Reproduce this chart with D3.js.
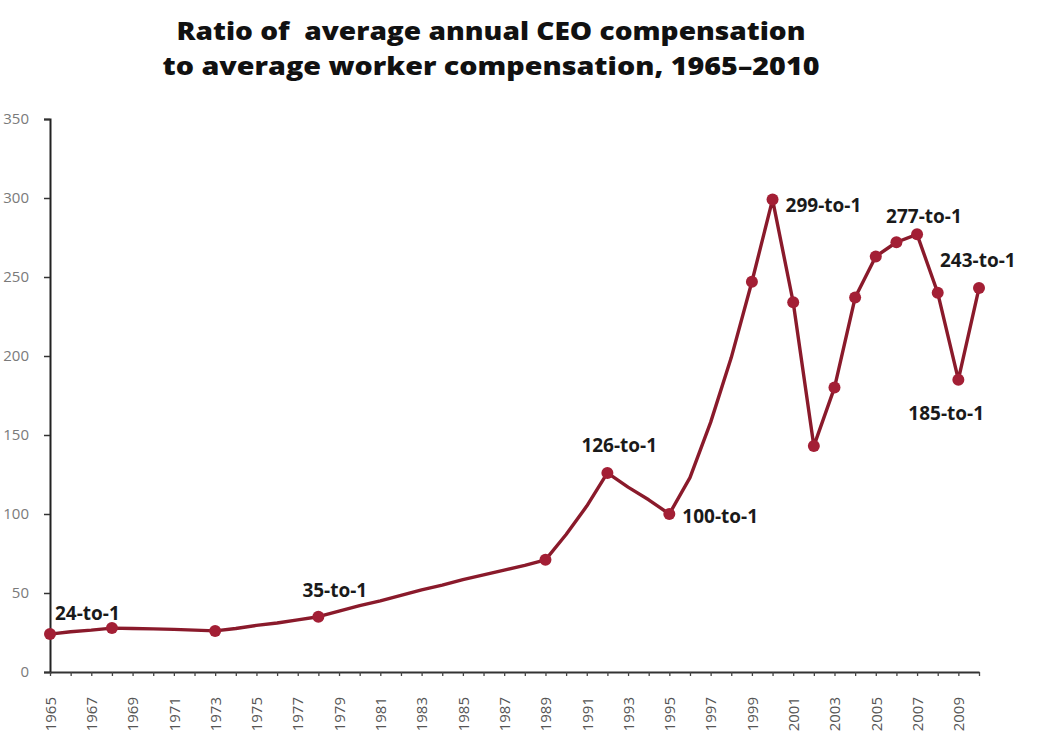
<!DOCTYPE html>
<html>
<head>
<meta charset="utf-8">
<script src="https://cdn.jsdelivr.net/npm/d3@7"></script>
<style>
  html, body { margin: 0; padding: 0; background: #ffffff; }
  svg { display: block; }
</style>
</head>
<body>
<svg id="chart" width="1060" height="755"></svg>
<script>
// ---- Data ----
const titleLines = ["Ratio of  average annual CEO compensation", "to average worker compensation, 1965\u20132010"];
const years = [1965,1966,1967,1968,1969,1970,1971,1972,1973,1974,1975,1976,1977,1978,1979,1980,1981,1982,1983,1984,1985,1986,1987,1988,1989,1990,1991,1992,1993,1994,1995,1996,1997,1998,1999,2000,2001,2002,2003,2004,2005,2006,2007,2008,2009,2010];
const ratios = [24,25.5,26.5,27.8,27.5,27.3,27,26.5,26,27.5,29.5,31,33,35,38.5,42,45,48.5,52,55,58.5,61.5,64.5,67.5,71,87,105,126,117,109,100,123,158,199,247,299,234,143,180,237,263,272,277,240,185,243];
const markerYears = [1965,1968,1973,1978,1989,1992,1995,1999,2000,2001,2002,2003,2004,2005,2006,2007,2008,2009,2010];
const yTicks = [0,50,100,150,200,250,300,350];
const annYears = [1965,1978,1992,1995,2000,2007,2010,2009];
const annTexts = ["24-to-1","35-to-1","126-to-1","100-to-1","299-to-1","277-to-1","243-to-1","185-to-1"];

// ---- Layout ----
const svg = d3.select("#chart");
const x = d3.scaleLinear().domain([1965, 2010]).range([50, 979]);
const y = d3.scaleLinear().domain([0, 350]).range([672, 119]);
const lineColor = "#8a1a2b";
const dotColor = "#a31f35";

// Title
const titleSpecs = [{y: 40, len: 629}, {y: 75, len: 657}];
titleLines.forEach((t, i) => {
  svg.append("text")
    .attr("x", 491).attr("y", titleSpecs[i].y)
    .attr("text-anchor", "middle")
    .attr("font-family", "'Open Sans', sans-serif")
    .attr("font-weight", 800)
    .attr("font-size", 25.5)
    .attr("fill", "#111")
    .style("white-space", "pre")
    .attr("textLength", titleSpecs[i].len)
    .attr("lengthAdjust", "spacingAndGlyphs")
    .text(t);
});

// Y axis
const yAxis = d3.axisLeft(y).tickValues(yTicks).tickSize(6).tickPadding(15);
const gy = svg.append("g").attr("transform", "translate(50,0)").call(yAxis);
gy.select(".domain").attr("stroke", "#222").attr("stroke-width", 2);
gy.selectAll(".tick line").attr("stroke", "#333").attr("stroke-width", 1.5);
gy.selectAll(".tick text")
  .attr("font-family", "'Open Sans', sans-serif")
  .attr("font-size", 15)
  .attr("fill", "#7a7a7a");

// X axis
const xAxis = d3.axisBottom(x).tickValues(years).tickSize(4).tickSizeOuter(0)
  .tickFormat(d => (d - 1965) % 2 === 0 ? String(d) : "");
const gx = svg.append("g").attr("transform", "translate(0,672)").call(xAxis);
gx.select(".domain").attr("stroke", "#333").attr("stroke-width", 2);
gx.selectAll(".tick line").attr("stroke", "#444").attr("stroke-width", 1.3);
gx.selectAll(".tick text")
  .attr("font-family", "'Open Sans', sans-serif")
  .attr("font-size", 15)
  .attr("fill", "#555")
  .attr("text-anchor", "end")
  .attr("transform", "translate(0,25) rotate(-90)")
  .attr("x", 0).attr("y", 0).attr("dy", "0.35em");

// Line
const pts = years.map((yr, i) => ({year: yr, value: ratios[i]}));
const line = d3.line().x(d => x(d.year)).y(d => y(d.value)).curve(d3.curveLinear);
svg.append("path")
  .datum(pts)
  .attr("d", line)
  .attr("fill", "none")
  .attr("stroke", lineColor)
  .attr("stroke-width", 3.4)
  .attr("stroke-linejoin", "round");

// Markers
svg.append("g").selectAll("circle")
  .data(pts.filter(d => markerYears.includes(d.year)))
  .join("circle")
  .attr("cx", d => x(d.year))
  .attr("cy", d => y(d.value))
  .attr("r", 6)
  .attr("fill", dotColor);

// Annotations (offsets are placement, not data)
const annOffsets = {
  "24-to-1": [5, -14],
  "35-to-1": [-16, -20],
  "126-to-1": [-26, -21],
  "100-to-1": [13, 9],
  "299-to-1": [13, 12],
  "277-to-1": [-31, -11],
  "243-to-1": [-39, -21],
  "185-to-1": [-50, 40]
};
annTexts.forEach((t, i) => {
  const yr = annYears[i];
  const v = ratios[years.indexOf(yr)];
  const off = annOffsets[t];
  svg.append("text")
    .attr("x", x(yr) + off[0])
    .attr("y", y(v) + off[1])
    .attr("font-family", "'Open Sans', sans-serif")
    .attr("font-weight", 700)
    .attr("font-size", 19)
    .attr("fill", "#1a1a1a")
    .text(t);
});
</script>
</body>
</html>
